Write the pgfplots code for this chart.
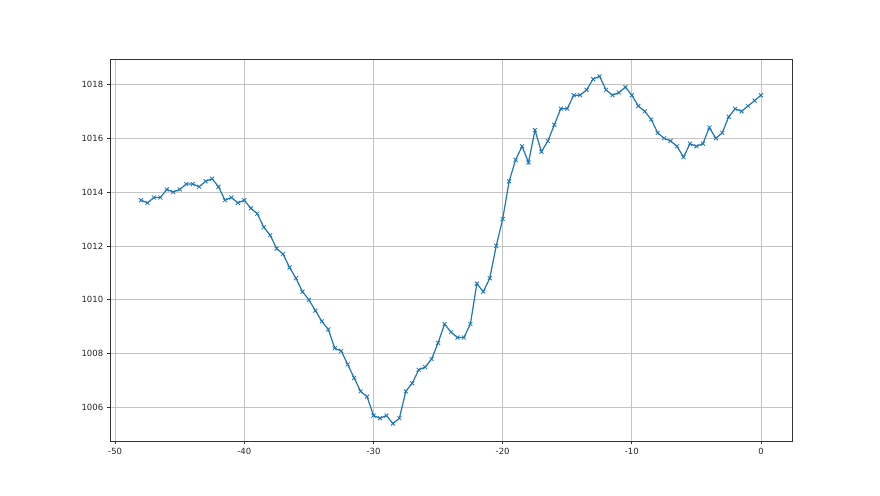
\documentclass[border=0pt]{standalone}
\usepackage{pgfplots}
\pgfplotsset{compat=1.18}
\usepackage{fontspec}
\setmainfont{DejaVu Sans}
\definecolor{mplblue}{HTML}{1F77B4}
\definecolor{mplgrid}{HTML}{C4C4C4}
\begin{document}
\begin{tikzpicture}[x=1pt,y=1pt]
\useasboundingbox (-110,-54) rectangle (770,441);
\begin{axis}[
    at={(0,0)}, anchor=south west,
    width=682pt, height=382pt,
    scale only axis,
    xmin=-50.4, xmax=2.4,
    ymin=1004.755, ymax=1018.945,
    xtick={-50,-40,-30,-20,-10,0},
    ytick={1006,1008,1010,1012,1014,1016,1018},
    xtick pos=bottom, ytick pos=left,
    grid=major,
    major grid style={line width=0.7pt, draw=mplgrid},
    axis line style={line width=0.76pt, black!80},
    tick style={line width=0.76pt, black!80},
    tick align=outside,
    major tick length=3.3pt,
    tick label style={font=\fontsize{8.5}{10}\selectfont, text=black!85},
    /pgf/number format/assume math mode=true,
    /pgf/number format/.cd, 1000 sep={},
]
\addplot[color=mplblue, line width=1.2pt, mark=x, mark size=2.8pt,
    mark options={line width=0.8pt}] coordinates {
(-48,1013.7) (-47.5,1013.6) (-47,1013.8) (-46.5,1013.8) (-46,1014.1)
(-45.5,1014.0) (-45,1014.1) (-44.5,1014.3) (-44,1014.3) (-43.5,1014.2)
(-43,1014.4) (-42.5,1014.5) (-42,1014.2) (-41.5,1013.7) (-41,1013.8)
(-40.5,1013.6) (-40,1013.7) (-39.5,1013.4) (-39,1013.2) (-38.5,1012.7)
(-38,1012.4) (-37.5,1011.9) (-37,1011.7) (-36.5,1011.2) (-36,1010.8)
(-35.5,1010.3) (-35,1010.0) (-34.5,1009.6) (-34,1009.2) (-33.5,1008.9)
(-33,1008.2) (-32.5,1008.1) (-32,1007.6) (-31.5,1007.1) (-31,1006.6)
(-30.5,1006.4) (-30,1005.7) (-29.5,1005.6) (-29,1005.7) (-28.5,1005.4)
(-28,1005.6) (-27.5,1006.6) (-27,1006.9) (-26.5,1007.4) (-26,1007.5)
(-25.5,1007.8) (-25,1008.4) (-24.5,1009.1) (-24,1008.8) (-23.5,1008.6)
(-23,1008.6) (-22.5,1009.1) (-22,1010.6) (-21.5,1010.3) (-21,1010.8)
(-20.5,1012.0) (-20,1013.0) (-19.5,1014.4) (-19,1015.2) (-18.5,1015.7)
(-18,1015.1) (-17.5,1016.3) (-17,1015.5) (-16.5,1015.9) (-16,1016.5)
(-15.5,1017.1) (-15,1017.1) (-14.5,1017.6) (-14,1017.6) (-13.5,1017.8)
(-13,1018.2) (-12.5,1018.3) (-12,1017.8) (-11.5,1017.6) (-11,1017.7)
(-10.5,1017.9) (-10,1017.6) (-9.5,1017.2) (-9,1017.0) (-8.5,1016.7)
(-8,1016.2) (-7.5,1016.0) (-7,1015.9) (-6.5,1015.7) (-6,1015.3)
(-5.5,1015.8) (-5,1015.7) (-4.5,1015.8) (-4,1016.4) (-3.5,1016.0)
(-3,1016.2) (-2.5,1016.8) (-2,1017.1) (-1.5,1017.0) (-1,1017.2)
(-0.5,1017.4) (0,1017.6)
};
\end{axis}
\end{tikzpicture}
\end{document}
